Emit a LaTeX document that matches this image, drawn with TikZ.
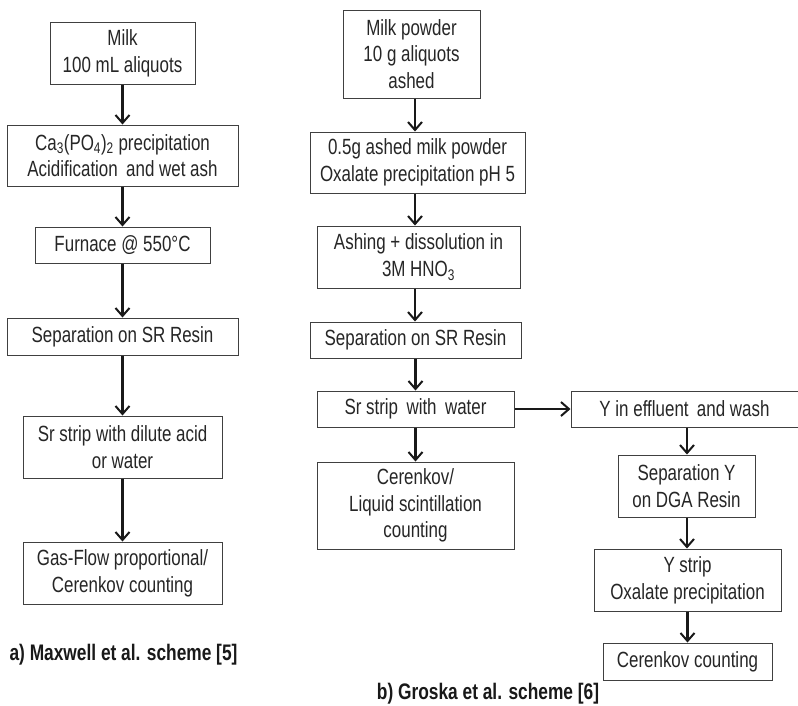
\documentclass[tikz,border=0pt]{standalone}
\usepackage{fontspec}
\setmainfont{Liberation Sans}[FakeStretch=0.77]
\usetikzlibrary{arrows.meta,positioning}

\tikzset{
  stepbox/.style={draw=black!75, line width=1pt, align=center, inner sep=2pt,
    text=black!85, font=\fontsize{22}{26.7}\selectfont},
  flow/.style={-{Straight Barb[length=8pt,width=14pt,line width=2pt]}, line width=2.3pt, draw=black!90},
  caption/.style={font=\bfseries\fontsize{22.5}{24}\selectfont, text=black!90}
}

\begin{document}
\begin{tikzpicture}[x=1pt,y=-1pt]
  \useasboundingbox[fill=white] (0,0) rectangle (798,705);

  % Scheme a)
  \node[stepbox, minimum width=145, minimum height=62] (milk) at (122.5,53) {Milk\\100 mL aliquots};
  \node[stepbox, minimum width=231, minimum height=61] (capo) at (122.5,155.5) {Ca\textsubscript{3}(PO\textsubscript{4})\textsubscript{2} precipitation\\Acidification\, and wet ash};
  \node[stepbox, minimum width=175, minimum height=36] (furnace) at (122.5,245) {Furnace @ 550°C};
  \node[stepbox, minimum width=231, minimum height=37] (sepa) at (122.5,336.5) {Separation on SR Resin};
  \node[stepbox, minimum width=199, minimum height=62] (stripa) at (122.5,447) {Sr strip with dilute acid\\or water};
  \node[stepbox, minimum width=199, minimum height=62] (gasflow) at (122.5,573) {Gas-Flow proportional/\\Cerenkov counting};
  \node[caption] (labela) at (123.5,655) {a) Maxwell et al. scheme [5]};

  \draw[flow] (milk) -- (capo);
  \draw[flow] (capo) -- (furnace);
  \draw[flow] (furnace) -- (sepa);
  \draw[flow] (sepa) -- (stripa);
  \draw[flow] (stripa) -- (gasflow);

  % Scheme b)
  \node[stepbox, minimum width=137, minimum height=88] (powder) at (411.5,54) {Milk powder\\10 g aliquots\\ashed};
  \node[stepbox, minimum width=215, minimum height=61] (oxal) at (417.5,162.5) {0.5g ashed milk powder\\Oxalate precipitation pH 5};
  \node[stepbox, minimum width=203, minimum height=62] (ashing) at (418.5,257) {Ashing + dissolution in\\3M HNO\textsubscript{3}};
  \node[stepbox, minimum width=211, minimum height=36] (sepb) at (415.5,340) {Separation on SR Resin};
  \node[stepbox, minimum width=197, minimum height=36] (stripb) at (415.5,409) {Sr strip\, with\, water};
  \node[stepbox, minimum width=197, minimum height=87] (cerb) at (415.5,505.5) {Cerenkov/\\Liquid scintillation\\counting};
  \node[stepbox, minimum width=227, minimum height=36] (yeff) at (684.5,409) {Y in effluent\, and wash};
  \node[stepbox, minimum width=137, minimum height=62] (sepy) at (686.5,486) {Separation Y\\on DGA Resin};
  \node[stepbox, minimum width=187, minimum height=62] (ystrip) at (687.5,580) {Y strip\\Oxalate precipitation};
  \node[stepbox, minimum width=169, minimum height=37] (cerenkov) at (687.5,661.5) {Cerenkov counting};
  \node[caption] (labelb) at (488,694) {b) Groska et al. scheme [6]};

  \draw[flow] (powder.south -| 415,0) -- (oxal.north -| 415,0);
  \draw[flow] (oxal.south -| 415,0) -- (ashing.north -| 415,0);
  \draw[flow] (ashing.south -| 415,0) -- (sepb.north -| 415,0);
  \draw[flow] (sepb) -- (stripb);
  \draw[flow] (stripb) -- (cerb);
  \draw[flow] (stripb) -- (yeff);
  \draw[flow] (yeff.south -| 687,0) -- (sepy.north -| 687,0);
  \draw[flow] (sepy.south -| 687,0) -- (ystrip.north -| 687,0);
  \draw[flow] (ystrip) -- (cerenkov);
\end{tikzpicture}
\end{document}
